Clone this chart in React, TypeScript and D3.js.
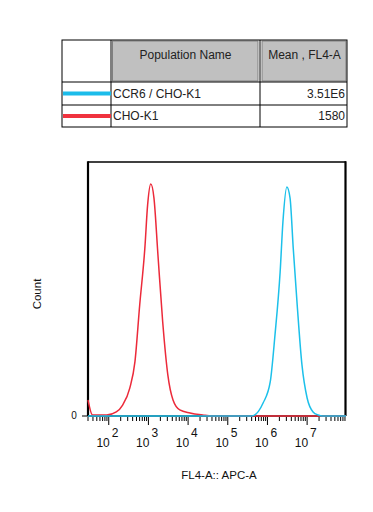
import React from "react";
import * as d3 from "d3";

// ---- data ----
const populationNames = ["CCR6 / CHO-K1", "CHO-K1"];
const populationMeans = ["3.51E6", "1580"];
const populationColors = ["#1cbcea", "#f0323e"];
const tableHeaders = ["Population Name", "Mean , FL4-A"];

// CHO-K1 (red) histogram: FL4-A value, count (relative)
const redX = [30, 39, 89, 155, 224, 339, 457, 603, 813, 955, 1148, 1380, 1738, 2291, 3090, 4169, 6166, 11220, 23440, 39810, 95500000];
const redY = [6.3, 0.4, 0.4, 1.6, 4.3, 11, 21.3, 43.7, 66.1, 83.1, 91.3, 85.8, 63.4, 37, 16.1, 6.3, 2.4, 1.2, 0.4, 0, 0];
// CCR6 / CHO-K1 (cyan) histogram
const blueX = [30, 398000, 776000, 1175000, 1549000, 2089000, 2455000, 3090000, 3715000, 4467000, 5623000, 7413000, 10000000, 14130000, 19050000, 24000000, 95500000];
const blueY = [0, 0, 5.1, 13.4, 31.9, 56.7, 76.4, 90.2, 85.8, 66.1, 43.7, 20.1, 7.1, 1.6, 0.4, 0, 0];

const majorExps = [2, 3, 4, 5, 6, 7];
const xDomain = [30, 95500000];
const yDomain = [0, 100];
const xLabel = "FL4-A:: APC-A";
const yLabel = "Count";

export default function App() {
  const W = 373, H = 512;
  const left = 88, right = 346, top = 162, bottom = 416;
  const x = d3.scaleLog().domain(xDomain).range([left, right]);
  const y = d3.scaleLinear().domain(yDomain).range([bottom, top]);
  const line = d3.line<[number, number]>().x(d => x(d[0])).y(d => y(d[1])).curve(d3.curveMonotoneX);
  const redPath = line(redX.map((v, i) => [v, redY[i]]) as [number, number][]) || "";
  const bluePath = line(blueX.map((v, i) => [v, blueY[i]]) as [number, number][]) || "";

  const minorTicks: number[] = [];
  for (let k = 1; k <= 7; k++) {
    for (let m = 2; m <= 9; m++) {
      const v = m * Math.pow(10, k);
      if (v >= xDomain[0] && v <= xDomain[1]) minorTicks.push(v);
    }
  }

  const font = "'Liberation Sans', Arial, sans-serif";

  // table geometry
  const tL = 62, tR = 347, tT = 40, c1 = 111, c2 = 260, hB = 82, r1B = 105, tB = 127;

  return (
    <svg width={W} height={H} style={{ position: "absolute", left: 0, top: 0, background: "#fff" }} fontFamily={font}>
      {/* table */}
      <rect x={c1 + 1.5} y={tT + 1} width={c2 - c1 - 3.5} height={hB - tT - 2} fill="#c0c0c0" stroke="#808080" strokeWidth={1} />
      <rect x={c2 + 2} y={tT + 1} width={tR - c2 - 3} height={hB - tT - 2} fill="#c0c0c0" stroke="#808080" strokeWidth={1} />
      <text x={(c1 + c2) / 2} y={59} fontSize={12} textAnchor="middle" fill="#222">{tableHeaders[0]}</text>
      <text x={(c2 + tR) / 2 + 1} y={59} fontSize={12} textAnchor="middle" fill="#222">{tableHeaders[1]}</text>
      <g stroke="#000" strokeWidth={1} fill="none">
        <rect x={tL} y={tT} width={tR - tL} height={tB - tT} />
        <line x1={c1} y1={tT} x2={c1} y2={tB} />
        <line x1={c2} y1={tT} x2={c2} y2={tB} />
        <line x1={tL} y1={hB} x2={tR} y2={hB} />
        <line x1={tL} y1={r1B} x2={tR} y2={r1B} />
      </g>
      {populationNames.map((n, i) => {
        const rowTop = i === 0 ? hB : r1B;
        const rowBot = i === 0 ? r1B : tB;
        const cy = (rowTop + rowBot) / 2;
        return (
          <g key={n}>
            <line x1={tL + 1} x2={c1} y1={cy} y2={cy} stroke={populationColors[i]} strokeWidth={4} />
            <text x={c1 + 2} y={cy + 4} fontSize={12} fill="#222">{n}</text>
            <text x={tR - 2} y={cy + 4} fontSize={12} textAnchor="end" fill="#222">{populationMeans[i]}</text>
          </g>
        );
      })}

      {/* plot frame */}
      <line x1={left} y1={top} x2={right} y2={top} stroke="#000" strokeWidth={1.5} />
      <line x1={left} y1={top - 0.75} x2={left} y2={bottom} stroke="#000" strokeWidth={2.2} />
      <line x1={right - 0.5} y1={top - 0.75} x2={right - 0.5} y2={bottom} stroke="#000" strokeWidth={2.2} />
      <line x1={left} y1={bottom} x2={right} y2={bottom} stroke="#000" strokeWidth={1.5} />

      {/* curves */}
      <path d={redPath} fill="none" stroke="#ec2a3a" strokeWidth={1.5} />
      <path d={bluePath} fill="none" stroke="#1cc0ea" strokeWidth={1.5} />

      {/* x ticks */}
      <g stroke="#000" strokeWidth={1}>
        {minorTicks.map(v => (
          <line key={v} x1={x(v)} x2={x(v)} y1={bottom + 1} y2={bottom + 5} />
        ))}
        {majorExps.map(e => (
          <line key={e} x1={x(Math.pow(10, e))} x2={x(Math.pow(10, e))} y1={bottom + 1} y2={bottom + 9} />
        ))}
      </g>
      {majorExps.map(e => {
        const px = x(Math.pow(10, e));
        return (
          <g key={"l" + e} fontSize={12} fill="#111">
            <text x={px + 1} y={447} textAnchor="end">10</text>
            <text x={px + 3} y={436.5}>{e}</text>
          </g>
        );
      })}

      {/* y tick */}
      <line x1={82} x2={left} y1={bottom} y2={bottom} stroke="#000" strokeWidth={1} />
      <text x={74} y={419} fontSize={10} textAnchor="middle" fill="#111">0</text>

      {/* axis labels */}
      <text x={(left + right) / 2 + 2} y={479} fontSize={11.5} textAnchor="middle" fill="#111">{xLabel}</text>
      <text transform={`translate(41,294) rotate(-90)`} fontSize={11.5} textAnchor="middle" fill="#111">{yLabel}</text>
    </svg>
  );
}
